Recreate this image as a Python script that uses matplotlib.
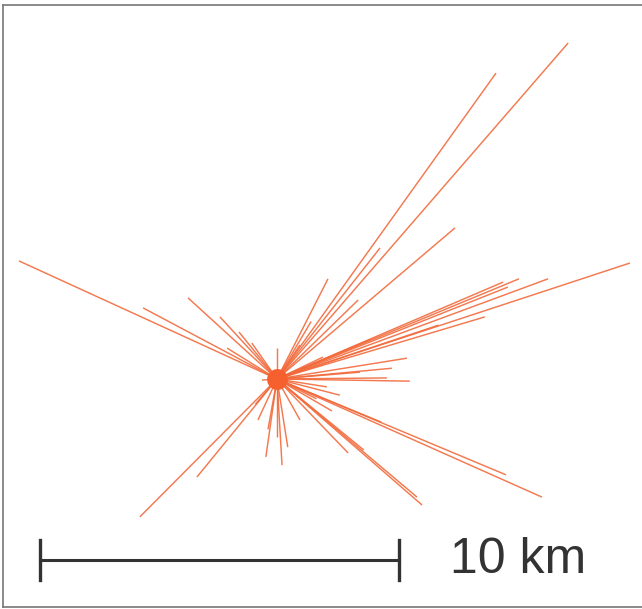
import numpy as np
import matplotlib
matplotlib.use("Agg")
import matplotlib.pyplot as plt
from matplotlib.lines import Line2D

# end points of each ray, km east / north of the centre
ray_dx = [8.11, 6.10, 4.96, 2.87, 1.42, 2.26, 9.83, 7.55, 6.74, 6.30,
          6.43, 5.79, 3.62, 3.70, 3.06, -7.19, -3.73, -2.48, -1.59, -1.06,
          -1.39, -0.70, 0.00, -0.42, -3.82, -2.23, -0.31, 0.14, 0.00, 7.38,
          6.38, 4.04, 3.90, 2.42, 1.98, 1.53, 1.39, 1.28, 2.31, 1.75,
          0.64, -0.53, 0.64, 0.95, 2.60, 4.50, 3.20, -0.60, 0.30, -0.25,
          1.10, 2.90]
ray_dy = [9.36, 8.52, 4.21, 3.65, 2.79, 2.20, 3.23, 2.79, 2.79, 2.70,
          2.56, 1.73, 0.58, -0.06, 0.03, 3.29, 1.98, 2.26, 1.73, 1.31,
          0.86, 1.00, 0.86, -0.03, -3.84, -2.73, -2.17, -2.40, -1.62, -3.29,
          -2.67, -3.51, -3.29, -1.98, -2.06, -0.89, -0.22, 0.61, 0.19, -0.45,
          -1.14, -1.14, 0.95, 1.60, 1.10, 1.50, 0.30, -0.70, -1.90, -1.40,
          -0.55, -1.20]

scale_len = 10  # km
scale_label = "10 km"

px_per_km = 35.9
W, H = 642, 609
cx, cy = 277, 379  # centre in pixels

fig = plt.figure(figsize=(W / 100, H / 100), dpi=100)
ax = fig.add_axes([0, 0, 1, 1])
ax.set_xlim(-cx / px_per_km, (W - cx) / px_per_km)
ax.set_ylim(-(H - cy) / px_per_km, cy / px_per_km)
ax.axis("off")

col = "#f26a3c"
for dx, dy in zip(ray_dx, ray_dy):
    ax.plot([0, dx], [0, dy], color=col, lw=1.05, alpha=0.9,
            solid_capstyle="butt")
ax.plot(0, 0, "o", color="#f5602e", ms=15, mec="none")

# scale bar
x0 = (40 - cx) / px_per_km
yb = (cy - 560) / px_per_km
th = 20 / px_per_km
bar = "#333333"
ax.plot([x0, x0 + scale_len], [yb, yb], color=bar, lw=2.2)
ax.plot([x0, x0], [yb - th, yb + th], color=bar, lw=2.4)
ax.plot([x0 + scale_len, x0 + scale_len], [yb - th, yb + th], color=bar, lw=2.4)
ax.text((450 - cx) / px_per_km, yb, scale_label, fontsize=36,
        family="Liberation Sans", color=bar, va="center", ha="left")

# frame: left, top and bottom edges only
fx0, fx1 = 3 / W, 1.0
fy0, fy1 = 2 / H, 1 - 5 / H
frame = "#777777"
for xs, ys in [([fx0, fx0], [fy0, fy1]), ([fx0, fx1], [fy1, fy1]),
               ([fx0, fx1], [fy0, fy0])]:
    fig.lines.append(Line2D(xs, ys, transform=fig.transFigure,
                            color=frame, lw=1.2))

fig.savefig("out.png", dpi=100, facecolor="white")
